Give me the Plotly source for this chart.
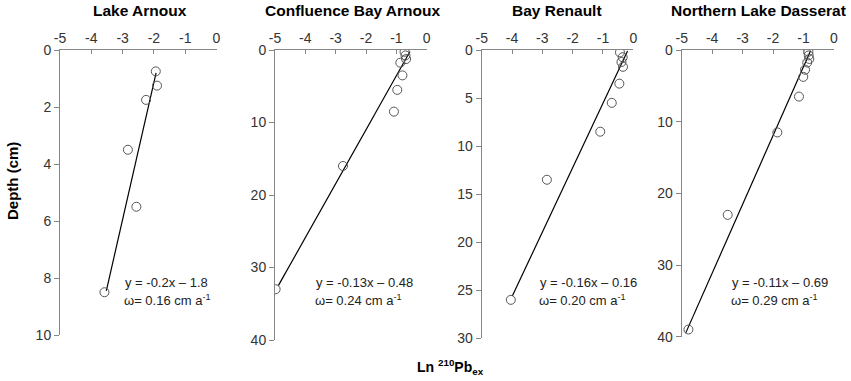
import plotly.graph_objects as go

W, H = 851, 381

titles = ["Lake Arnoux", "Confluence Bay Arnoux", "Bay Renault", "Northern Lake Dasserat"]

arnoux_depth = [0.75, 1.25, 1.75, 3.5, 5.5, 8.5]
arnoux_lnpb = [-1.94, -1.90, -2.25, -2.83, -2.56, -3.58]

confluence_depth = [0.25, 0.75, 1.25, 1.75, 3.5, 5.5, 8.5, 16, 33]
confluence_lnpb = [-0.73, -0.70, -0.68, -0.87, -0.80, -0.97, -1.08, -2.76, -4.98]

renault_depth = [0.25, 0.75, 1.25, 1.75, 3.5, 5.5, 8.5, 13.5, 26]
renault_lnpb = [-0.44, -0.35, -0.39, -0.34, -0.46, -0.71, -1.09, -2.85, -4.04]

dasserat_depth = [0.25, 0.75, 1.25, 1.75, 2.75, 3.75, 6.5, 11.5, 23, 39]
dasserat_lnpb = [-0.84, -0.83, -0.81, -0.88, -0.95, -1.01, -1.15, -1.86, -3.49, -4.78]

# regression line end points (as drawn)
fit_lnpb = [[-1.93, -3.52], [-0.55, -4.89], [-0.19, -3.99], [-0.77, -4.87]]
fit_depth = [[0.8, 8.45], [0.2, 32.5], [0.1, 25.6], [0.1, 39.5]]

equations = ["y = -0.2x \u2013 1.8", "y = -0.13x \u2013 0.48", "y = -0.16x \u2013 0.16", "y = -0.11x \u2013 0.69"]
rates = ["0.16", "0.24", "0.20", "0.29"]

y_max = [10, 40, 30, 40]
y_dtick = [2, 10, 5, 10]
x_ticks = [-5, -4, -3, -2, -1, 0]
x_ticktext = ["-5", "-4", "-3", "-2", "-1", "0"]

depths = [arnoux_depth, confluence_depth, renault_depth, dasserat_depth]
lnpbs = [arnoux_lnpb, confluence_lnpb, renault_lnpb, dasserat_lnpb]

# layout geometry in pixels
px_left = [60, 275, 481.7, 681.7]
px_right = [216.5, 426.7, 633.3, 834]
px_top = 50
px_bottom = [335, 340, 338.3, 336.7]
title_cx = [140, 352, 557, 758]
eq_x = [123, 313.5, 537.5, 730]

def xp(x):
    return x / W

def yp(y):
    return 1 - y / H

AX = "#868686"
FONT = "Liberation Sans, Arial, sans-serif"

fig = go.Figure()
annotations = []
for i in range(4):
    n = "" if i == 0 else str(i + 1)
    fig.add_trace(go.Scatter(
        x=fit_lnpb[i], y=fit_depth[i], mode="lines",
        line=dict(color="black", width=1.2),
        xaxis="x" + n, yaxis="y" + n, showlegend=False, hoverinfo="skip"))
    fig.add_trace(go.Scatter(
        x=lnpbs[i], y=depths[i], mode="markers",
        marker=dict(symbol="circle-open", size=9, color="#555555", line=dict(width=1)),
        xaxis="x" + n, yaxis="y" + n, showlegend=False))
    fig.layout["xaxis" + n] = dict(
        domain=[xp(px_left[i]), xp(px_right[i])], anchor="y" + n, side="top",
        range=[-5, 0], tickvals=x_ticks, ticktext=x_ticktext, automargin=False,
        showline=True, linecolor=AX, linewidth=1, showgrid=False, zeroline=False,
        ticks="inside", ticklen=4, tickcolor=AX,
        tickfont=dict(family=FONT, size=14, color="#333333"))
    fig.layout["yaxis" + n] = dict(
        domain=[yp(px_bottom[i]), yp(px_top)], anchor="x" + n, automargin=False,
        range=[y_max[i], 0], dtick=y_dtick[i], tick0=0,
        showline=True, linecolor=AX, linewidth=1, showgrid=False, zeroline=False,
        ticks="outside", ticklen=5, tickcolor=AX,
        tickfont=dict(family=FONT, size=14, color="#333333"))
    annotations.append(dict(
        text="<b>" + titles[i] + "</b>", x=xp(title_cx[i]), y=yp(10),
        xref="paper", yref="paper", xanchor="center", yanchor="middle",
        showarrow=False, font=dict(family=FONT, size=15.5, color="black")))
    annotations.append(dict(
        text=equations[i], x=xp(eq_x[i]), y=yp(282),
        xref="paper", yref="paper", xanchor="left", yanchor="middle",
        showarrow=False, font=dict(family=FONT, size=13, color="#222222")))
    annotations.append(dict(
        text="\u03c9= " + rates[i] + " cm a<sup>-1</sup>", x=xp(eq_x[i] - 1), y=yp(300),
        xref="paper", yref="paper", xanchor="left", yanchor="middle",
        showarrow=False, font=dict(family=FONT, size=13, color="#222222")))

annotations.append(dict(
    text="<b>Depth (cm)</b>", x=xp(12), y=yp(181), textangle=-90,
    xref="paper", yref="paper", xanchor="center", yanchor="middle",
    showarrow=False, font=dict(family=FONT, size=15, color="black")))
annotations.append(dict(
    text="<b>Ln <sup>210</sup>Pb<sub>ex</sub></b>", x=xp(450), y=yp(367),
    xref="paper", yref="paper", xanchor="center", yanchor="middle",
    showarrow=False, font=dict(family=FONT, size=14, color="black")))

fig.update_layout(
    width=W, height=H, margin=dict(l=0, r=0, t=0, b=0),
    paper_bgcolor="white", plot_bgcolor="white",
    annotations=annotations, font=dict(family=FONT))

fig.write_html("out.html", config={"displayModeBar": False},
               post_script="document.body.style.margin='0';document.body.style.overflow='hidden';")
